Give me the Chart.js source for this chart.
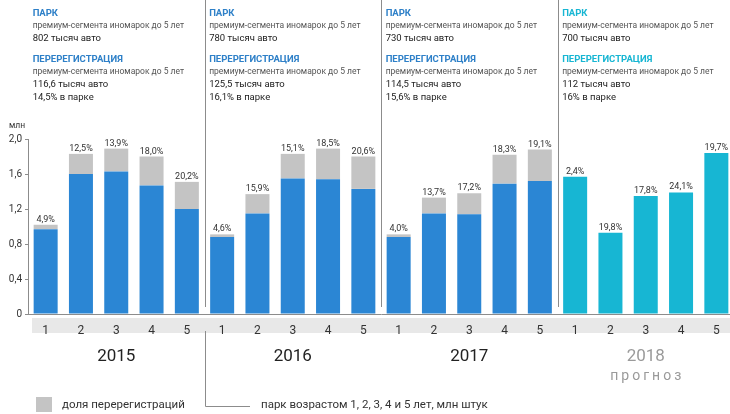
<!DOCTYPE html>
<html>
<head>
<meta charset="utf-8">
<script src="https://cdn.jsdelivr.net/npm/chart.js"></script>
<style>
  html, body { margin: 0; padding: 0; background: #fff; overflow: hidden; }
  #wrap { width: 736px; height: 414px; }
</style>
</head>
<body>
<div id="wrap"><canvas id="chart" width="736" height="414"></canvas></div>
<script>
// age of car, years
const ages = ['1','2','3','4','5','1','2','3','4','5','1','2','3','4','5','1','2','3','4','5'];
const years = ['2015', '2016', '2017', '2018'];

// park without re-registrations, mln
const parkValues = [0.97, 1.60, 1.63, 1.47, 1.20, 0.88, 1.15, 1.55, 1.54, 1.43, 0.88, 1.15, 1.14, 1.49, 1.52, null, null, null, null, null];
// re-registrations share, mln
const reregValues = [0.05, 0.23, 0.26, 0.33, 0.31, 0.03, 0.22, 0.28, 0.35, 0.37, 0.03, 0.18, 0.24, 0.33, 0.36, null, null, null, null, null];
// 2018 forecast, mln
const forecastValues = [null, null, null, null, null, null, null, null, null, null, null, null, null, null, null, 1.57, 0.93, 1.35, 1.39, 1.84];

const shareLabels = ['4,9%', '12,5%', '13,9%', '18,0%', '20,2%', '4,6%', '15,9%', '15,1%', '18,5%', '20,6%',
  '4,0%', '13,7%', '17,2%', '18,3%', '19,1%', '2,4%', '19,8%', '17,8%', '24,1%', '19,7%'];

const parkTotals = ['802 тысяч авто', '780 тысяч авто', '730 тысяч авто', '700 тысяч авто'];
const reregTotals = ['116,6 тысяч авто', '125,5 тысяч авто', '114,5 тысяч авто', '112 тысяч авто'];
const reregShares = ['14,5% в парке', '16,1% в парке', '15,6% в парке', '16% в парке'];

const yTicks = [0, 0.4, 0.8, 1.2, 1.6, 2.0];

const BLUE = '#2b86d4';
const GRAY = '#c4c4c4';
const CYAN = '#17b6d3';
const FONT = 'Roboto';

const annotations = {
  id: 'annotations',
  beforeDraw(chart) {
    const ctx = chart.ctx;
    // light band under the age numbers
    ctx.save();
    ctx.fillStyle = '#e8e8e8';
    ctx.fillRect(32, 318, 698, 15);
    ctx.restore();
  },
  afterDraw(chart) {
    const ctx = chart.ctx;
    const x = chart.scales.x;
    const y = chart.scales.y;
    ctx.save();

    // share labels above bars
    ctx.font = '9px ' + FONT;
    ctx.fillStyle = '#333';
    ctx.textAlign = 'center';
    ctx.textBaseline = 'alphabetic';
    shareLabels.forEach((lbl, i) => {
      const total = forecastValues[i] != null ? forecastValues[i] : parkValues[i] + reregValues[i];
      ctx.fillText(lbl, x.getPixelForValue(i), y.getPixelForValue(total) - 3);
    });

    // group separators
    ctx.strokeStyle = '#8c8c8c';
    ctx.lineWidth = 1;
    for (let g = 1; g < 4; g++) {
      const sx = Math.round((x.getPixelForValue(g * 5 - 1) + x.getPixelForValue(g * 5)) / 2) + 0.5;
      ctx.beginPath();
      ctx.moveTo(sx, 0);
      ctx.lineTo(sx, 307);
      ctx.stroke();
      if (g === 1) {
        ctx.beginPath();
        ctx.moveTo(sx, 331);
        ctx.lineTo(sx, 406.5);
        ctx.lineTo(250, 406.5);
        ctx.stroke();
      }
    }

    // text blocks above each year
    years.forEach((yr, g) => {
      const bx = x.getPixelForValue(g * 5) - 13;
      const titleColor = g === 3 ? CYAN : '#2e80c8';
      ctx.textAlign = 'left';
      ctx.font = 'bold 9.5px ' + FONT;
      ctx.fillStyle = titleColor;
      ctx.fillText('ПАРК', bx, 16);
      ctx.fillText('ПЕРЕРЕГИСТРАЦИЯ', bx, 62);
      ctx.font = '8.5px ' + FONT;
      ctx.fillStyle = '#555';
      ctx.fillText('премиум-сегмента иномарок до 5 лет', bx, 28);
      ctx.fillText('премиум-сегмента иномарок до 5 лет', bx, 74);
      ctx.font = '9.5px ' + FONT;
      ctx.fillStyle = '#222';
      ctx.fillText(parkTotals[g], bx, 41);
      ctx.fillText(reregTotals[g], bx, 87);
      ctx.fillText(reregShares[g], bx, 100);

      // year captions
      const cx = (x.getPixelForValue(g * 5) + x.getPixelForValue(g * 5 + 4)) / 2;
      ctx.textAlign = 'center';
      ctx.font = '17px ' + FONT;
      ctx.fillStyle = g === 3 ? '#9a9a9a' : '#222';
      ctx.fillText(yr, cx, 361);
      if (g === 3) {
        ctx.font = '14px ' + FONT;
        ctx.letterSpacing = '3px';
        ctx.fillText('прогноз', cx + 1.5, 380);
        ctx.letterSpacing = '0px';
      }
    });

    // unit label
    ctx.textAlign = 'left';
    ctx.font = '8.5px ' + FONT;
    ctx.fillStyle = '#333';
    ctx.fillText('млн', 9, 128);

    // legend
    ctx.fillStyle = GRAY;
    ctx.fillRect(36, 397, 16, 15);
    ctx.font = '11.5px ' + FONT;
    ctx.fillStyle = '#333';
    ctx.fillText('доля перерегистраций', 62, 408);
    ctx.fillText('парк возрастом 1, 2, 3, 4 и 5 лет, млн штук', 261, 408);

    ctx.restore();
  }
};

new Chart(document.getElementById('chart'), {
  type: 'bar',
  data: {
    labels: ages,
    datasets: [
      { label: 'парк', data: parkValues, backgroundColor: BLUE },
      { label: 'доля перерегистраций', data: reregValues, backgroundColor: GRAY },
      { label: 'прогноз', data: forecastValues, backgroundColor: CYAN }
    ]
  },
  options: {
    responsive: false,
    devicePixelRatio: 1,
    animation: false,
    barPercentage: 0.68,
    categoryPercentage: 1,
    layout: { padding: { top: 139, bottom: 80, left: 0, right: 2 } },
    plugins: { legend: { display: false }, tooltip: { enabled: false } },
    scales: {
      x: {
        stacked: true,
        grid: { display: false },
        border: { display: true, color: '#8c8c8c', width: 1 },
        ticks: { color: '#333', font: { family: FONT, size: 12 }, padding: 2, maxRotation: 0, autoSkip: false },
        afterFit: (s) => { s.height = 20; }
      },
      y: {
        stacked: true,
        min: 0,
        max: 2.0,
        afterBuildTicks: (s) => { s.ticks = yTicks.map(v => ({ value: v })); },
        grid: { drawOnChartArea: false, drawTicks: true, tickLength: 3, color: '#8c8c8c' },
        border: { display: true, color: '#8c8c8c', width: 1 },
        ticks: {
          color: '#333',
          padding: 3,
          font: { family: FONT, size: 10 },
          callback: (v) => v === 0 ? '0' : v.toFixed(1).replace('.', ',')
        },
        afterFit: (s) => { s.width = 28; }
      }
    }
  },
  plugins: [annotations]
});
</script>
</body>
</html>
